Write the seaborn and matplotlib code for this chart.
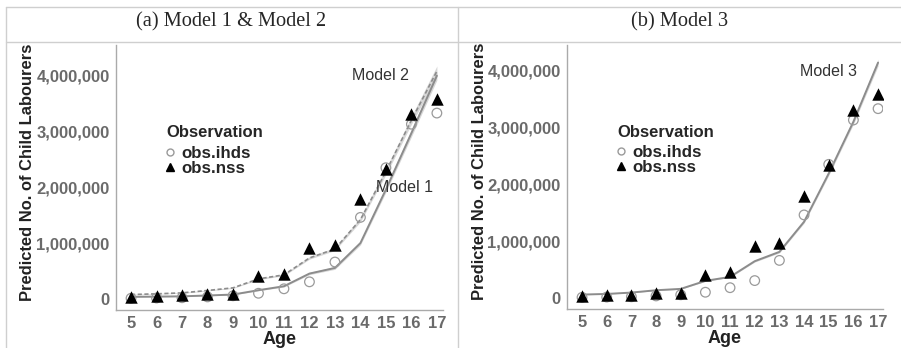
import matplotlib
matplotlib.use("Agg")
import matplotlib.pyplot as plt
from matplotlib.lines import Line2D
import numpy as np
import pandas as pd
import seaborn as sns

AGES = [5, 6, 7, 8, 9, 10, 11, 12, 13, 14, 15, 16, 17]
OBS_IHDS = [10000, 15000, 20000, 35000, 55000, 100000, 180000, 305000, 660000,
            1460000, 2350000, 3130000, 3330000]
OBS_NSS = [36000, 48000, 60000, 90000, 95000, 405000, 453000, 906000, 966000,
           1790000, 2330000, 3310000, 3590000]
MODEL1 = [36000, 40000, 45000, 60000, 77000, 155000, 226000, 453000, 554000,
          1000000, 1960000, 2970000, 4000000]
MODEL1_SE = [5000, 5000, 5000, 6000, 7000, 10000, 14000, 20000, 25000,
             35000, 50000, 65000, 80000]
MODEL2 = [77000, 90000, 107000, 150000, 197000, 358000, 430000, 733000, 894000,
          1420000, 2280000, 3200000, 4080000]
MODEL2_SE = [6000, 6000, 7000, 8000, 10000, 14000, 16000, 22000, 27000,
             40000, 55000, 70000, 95000]
MODEL3 = [59000, 70000, 94000, 135000, 159000, 300000, 370000, 646000, 810000,
          1340000, 2190000, 3100000, 4140000]
MODEL3_SE = [4000, 4000, 5000, 6000, 7000, 9000, 11000, 15000, 18000,
             25000, 35000, 45000, 60000]

LINE_COLOR = "#8c8c8c"
TICK_COLOR = "#6a6a6a"
BORDER = "#cfcfcf"

sns.set_style("white")
plt.rcParams["font.family"] = ["Liberation Sans", "DejaVu Sans"]

obs = pd.DataFrame({
    "Age": AGES * 2,
    "count": OBS_IHDS + OBS_NSS,
    "Observation": ["obs.ihds"] * len(AGES) + ["obs.nss"] * len(AGES),
})

fig = plt.figure(figsize=(9.01, 3.48), dpi=100)
ax1 = fig.add_axes([116 / 901, 38 / 348, 327 / 901, 265 / 348])
ax2 = fig.add_axes([567 / 901, 39 / 348, 316 / 901, 264 / 348])


def draw_model(ax, y, se, dashed):
    y = np.array(y)
    se = np.array(se)
    ax.fill_between(AGES, y - se, y + se, color="#bdbdbd", alpha=0.6, lw=0)
    if dashed:
        sns.lineplot(x=AGES, y=y, ax=ax, color=LINE_COLOR, lw=1.2,
                     dashes=False, linestyle=(0, (2.5, 1.5)))
    else:
        sns.lineplot(x=AGES, y=y, ax=ax, color=LINE_COLOR, lw=1.4)


def draw_obs(ax, title_x):
    sns.scatterplot(data=obs[obs.Observation == "obs.ihds"], x="Age", y="count",
                    ax=ax, marker="o", s=48, facecolor="none",
                    edgecolor="#9a9a9a", linewidth=0.9, zorder=5)
    sns.scatterplot(data=obs[obs.Observation == "obs.nss"], x="Age", y="count",
                    ax=ax, marker="^", s=80, color="black", linewidth=0, zorder=6)
    handles = [
        Line2D([], [], marker="o", ls="", markerfacecolor="none",
               markeredgecolor="#9a9a9a", markersize=5),
        Line2D([], [], marker="^", ls="", color="black", markersize=5.5),
    ]
    ax.legend(handles, ["obs.ihds", "obs.nss"], loc="upper left",
              bbox_to_anchor=(title_x - 0.002, 0.62), frameon=False,
              prop={"weight": "bold", "size": 12.2},
              handletextpad=0.35, handlelength=0.6, labelspacing=0.0,
              borderpad=0, borderaxespad=0)
    ax.text(title_x, 0.668, "Observation", transform=ax.transAxes,
            fontsize=12, fontweight="bold", va="center", ha="left")


def style(ax, xlim, ylim, label_x):
    ax.set_xlim(*xlim)
    ax.set_ylim(*ylim)
    ax.set_xticks(AGES)
    ax.set_yticks([0, 1000000, 2000000, 3000000, 4000000])
    ax.set_yticklabels(["0", "1,000,000", "2,000,000", "3,000,000", "4,000,000"])
    for lab in ax.get_xticklabels() + ax.get_yticklabels():
        lab.set_fontweight("bold")
        lab.set_color(TICK_COLOR)
        lab.set_fontsize(12)
    ax.tick_params(axis="both", length=2.5, color="#aaaaaa", pad=2, width=0.8)
    sns.despine(ax=ax)
    for sp in ["left", "bottom"]:
        ax.spines[sp].set_color("#aaaaaa")
        ax.spines[sp].set_linewidth(1.0)
    ax.set_xlabel("Age", fontsize=13, fontweight="bold", labelpad=0, color="#222222")
    ax.set_ylabel("Predicted No. of Child Labourers", fontsize=11.9,
                  fontweight="bold", color="#222222")
    ax.yaxis.set_label_coords(label_x, 0.52)


draw_model(ax1, MODEL1, MODEL1_SE, False)
draw_model(ax1, MODEL2, MODEL2_SE, True)
draw_obs(ax1, 0.153)
style(ax1, (4.41, 17.24), (-200000, 4550000), -0.248)
ax1.text(13.67, 4000000, "Model 2", fontsize=11.5, color="#333333", va="center")
ax1.text(14.6, 2000000, "Model 1", fontsize=11.5, color="#333333", va="center")

draw_model(ax2, MODEL3, MODEL3_SE, False)
draw_obs(ax2, 0.158)
style(ax2, (4.39, 17.2), (-195000, 4450000), -0.253)
ax2.text(13.84, 3980000, "Model 3", fontsize=11.5, color="#333333", va="center")

# table-like frame around the two panels
fig.add_artist(Line2D([6 / 901, 6 / 901], [0, 341 / 348], color=BORDER, lw=1))
fig.add_artist(Line2D([458 / 901, 458 / 901], [0, 341 / 348], color=BORDER, lw=1))
fig.add_artist(Line2D([6 / 901, 1], [341 / 348, 341 / 348], color=BORDER, lw=1))
fig.add_artist(Line2D([6 / 901, 1], [306 / 348, 306 / 348], color=BORDER, lw=1))
fig.text(231 / 901, 326 / 348, "(a) Model 1 & Model 2", ha="center", va="center",
         fontsize=14.7, family="Liberation Serif")
fig.text(680 / 901, 326 / 348, "(b) Model 3", ha="center", va="center",
         fontsize=14.7, family="Liberation Serif")

fig.savefig("out.png", dpi=100)
